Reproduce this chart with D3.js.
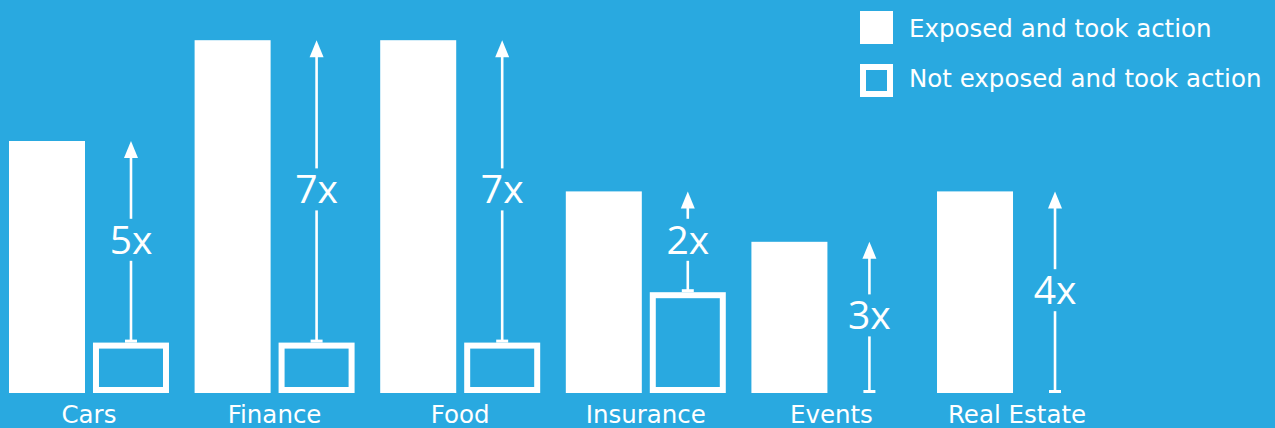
<!DOCTYPE html>
<html>
<head>
<meta charset="utf-8">
<script src="https://cdn.jsdelivr.net/npm/d3@7"></script>
<style>
  html, body { margin: 0; padding: 0; background: #29a9e0; overflow: hidden; }
  svg { display: block; }
  text { font-family: "DejaVu Sans", Verdana, sans-serif; fill: #ffffff; }
  text.mult { font-family: "Open Sans", "Noto Sans", sans-serif; }
</style>
</head>
<body>
<svg id="chart" width="1275" height="428"></svg>
<script>
// ---- data ----
const categories = ["Cars", "Finance", "Food", "Insurance", "Events", "Real Estate"];
const exposedValues = [5, 7, 7, 4, 3, 4];
const notExposedValues = [1, 1, 1, 2, null, null];
const multiplierLabels = ["5x", "7x", "7x", "2x", "3x", "4x"];
const seriesNames = ["Exposed and took action", "Not exposed and took action"];

// ---- layout ----
const W = 1275, H = 428;
const baseline = 393, topY = 40.2;
const svg = d3.select("#chart");
svg.append("rect").attr("width", W).attr("height", H).attr("fill", "#29a9e0");

const x0 = d3.scaleBand().domain(categories).range([9, 1097]).paddingInner(0.138).paddingOuter(0);
const x1 = d3.scaleBand().domain(["exp", "not"]).range([0, x0.bandwidth()]).paddingInner(0.095).paddingOuter(0);
const y = d3.scaleLinear().domain([0, 7]).range([baseline, topY]);

const data = categories.map((c, i) => ({
  cat: c, exp: exposedValues[i], not: notExposedValues[i], label: multiplierLabels[i]
}));

const g = svg.append("g");

// exposed bars (filled)
g.selectAll("rect.exp").data(data).join("rect")
  .attr("class", "exp")
  .attr("x", d => x0(d.cat) + x1("exp"))
  .attr("y", d => y(d.exp))
  .attr("width", x1.bandwidth())
  .attr("height", d => y(0) - y(d.exp))
  .attr("fill", "#ffffff");

// not-exposed bars (outlined)
const sw = 6;
g.selectAll("rect.not").data(data.filter(d => d.not != null)).join("rect")
  .attr("class", "not")
  .attr("x", d => x0(d.cat) + x1("not") + sw / 2)
  .attr("y", d => y(d.not) + sw / 2)
  .attr("width", x1.bandwidth() - sw)
  .attr("height", d => y(0) - y(d.not) - sw)
  .attr("fill", "none")
  .attr("stroke", "#ffffff")
  .attr("stroke-width", sw);

// arrows with multiplier labels
const fs = 39;
data.forEach(d => {
  const slotCenter = x0(d.cat) + x1("not") + x1.bandwidth() / 2;
  // when no comparison bar is drawn, the arrow sits a fixed distance right of the filled bar
  const cx = d.not == null ? x0(d.cat) + x1("exp") + x1.bandwidth() + 42 : slotCenter;
  const yStart = y(d.not == null ? 0 : d.not);
  const yEnd = y(d.exp);
  const mid = (yStart + yEnd) / 2 - 2;
  const gapHalf = 21;
  const a = g.append("g");
  a.append("path")
    .attr("d", `M${cx},${yEnd} L${cx - 7},${yEnd + 17} L${cx + 7},${yEnd + 17} Z`)
    .attr("fill", "#ffffff");
  a.append("line")
    .attr("x1", cx).attr("x2", cx)
    .attr("y1", yEnd + 15).attr("y2", mid - gapHalf)
    .attr("stroke", "#ffffff").attr("stroke-width", 2.6);
  a.append("line")
    .attr("x1", cx).attr("x2", cx)
    .attr("y1", mid + gapHalf).attr("y2", yStart - 2)
    .attr("stroke", "#ffffff").attr("stroke-width", 2.6);
  a.append("line")
    .attr("x1", cx - 6).attr("x2", cx + 6)
    .attr("y1", yStart - 1.5).attr("y2", yStart - 1.5)
    .attr("stroke", "#ffffff").attr("stroke-width", 3);
  a.append("text")
    .attr("class", "mult")
    .attr("x", cx)
    .attr("y", mid + fs * 0.714 / 2)
    .attr("text-anchor", "middle")
    .style("font-size", fs + "px")
    .text(d.label);
});

// category labels
g.selectAll("text.cat").data(data).join("text")
  .attr("class", "cat")
  .attr("x", d => x0(d.cat) + x0.bandwidth() / 2)
  .attr("y", 423)
  .attr("text-anchor", "middle")
  .style("font-size", "24.5px")
  .text(d => d.cat);

// legend
const lg = svg.append("g");
lg.append("rect").attr("x", 860).attr("y", 11).attr("width", 33).attr("height", 33).attr("fill", "#ffffff");
lg.append("rect").attr("x", 863).attr("y", 67).attr("width", 27).attr("height", 27)
  .attr("fill", "none").attr("stroke", "#ffffff").attr("stroke-width", 6);
lg.selectAll("text").data(seriesNames).join("text")
  .attr("x", 909)
  .attr("y", (d, i) => 37 + i * 50)
  .style("font-size", "24.5px")
  .text(d => d);
</script>
</body>
</html>
